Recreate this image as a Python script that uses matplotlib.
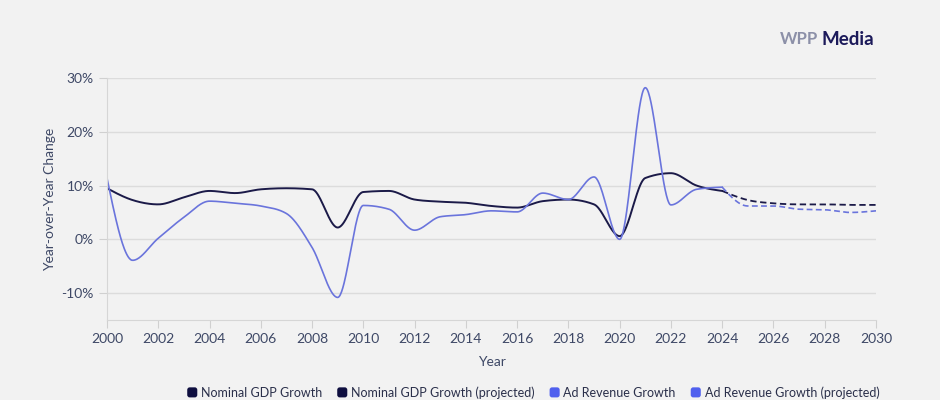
import numpy as np
import matplotlib.pyplot as plt
from matplotlib.patches import FancyBboxPatch
from matplotlib.legend_handler import HandlerPatch
from matplotlib.lines import Line2D

plt.rcParams['font.family'] = ['Lato', 'DejaVu Sans']

# ---- data ----
years = list(range(2000, 2025))
gdp = [9.5, 7.3, 6.5, 7.8, 9.0, 8.6, 9.3, 9.5, 9.3, 2.2, 8.8, 9.0, 7.4, 7.0,
       6.8, 6.2, 5.9, 7.1, 7.4, 6.5, 0.6, 11.4, 12.3, 10.0, 9.0]
ad = [11.4, -3.9, 0.2, 4.1, 7.1, 6.7, 6.2, 4.8, -1.5, -10.8, 6.3, 5.6, 1.7, 4.2,
      4.6, 5.3, 5.1, 8.6, 7.4, 11.6, 0.0, 28.2, 6.4, 9.3, 9.7]

proj_years = list(range(2024, 2031))
gdp_proj = [9.0, 7.3, 6.7, 6.5, 6.5, 6.4, 6.4]
ad_proj = [9.7, 6.2, 6.2, 5.6, 5.5, 5.0, 5.3]

series_labels = ["Nominal GDP Growth", "Nominal GDP Growth (projected)",
                 "Ad Revenue Growth", "Ad Revenue Growth (projected)"]

NAVY = "#1b1a48"
BLUE = "#6a74dc"
BG = "#f2f2f2"


def monotone(x, y, per=40):
    # monotone cubic (like d3 curveMonotoneX), only used to draw the line smooth
    x = np.asarray(x, float)
    y = np.asarray(y, float)
    h = np.diff(x)
    d = np.diff(y) / h
    m = np.zeros_like(y)
    for i in range(1, len(y) - 1):
        if d[i - 1] * d[i] > 0:
            m[i] = (np.sign(d[i - 1]) + np.sign(d[i])) * min(
                abs(d[i - 1]), abs(d[i]),
                0.5 * abs((h[i - 1] * d[i] + h[i] * d[i - 1]) / (h[i - 1] + h[i])))
    m[0] = (3 * d[0] - m[1]) / 2
    m[-1] = (3 * d[-1] - m[-2]) / 2
    xs, ys = [], []
    t = np.linspace(0, 1, per, endpoint=False)
    h00 = 2 * t**3 - 3 * t**2 + 1
    h10 = t**3 - 2 * t**2 + t
    h01 = -2 * t**3 + 3 * t**2
    h11 = t**3 - t**2
    for i in range(len(h)):
        xs.append(x[i] + t * h[i])
        ys.append(h00 * y[i] + h10 * h[i] * m[i] + h01 * y[i + 1] + h11 * h[i] * m[i + 1])
    xs.append([x[-1]])
    ys.append([y[-1]])
    return np.concatenate(xs), np.concatenate(ys)


fig = plt.figure(figsize=(9.4, 4), dpi=100, facecolor=BG)
ax = fig.add_axes([0.1138, 0.2, 0.8181, 0.605], facecolor=BG)

ax.plot(*monotone(years, gdp), color=NAVY, lw=1.4)
ax.plot(*monotone(proj_years, gdp_proj), color=NAVY, lw=1.3, ls=(0, (3.5, 2)))
ax.plot(*monotone(years, ad), color=BLUE, lw=1.2)
ax.plot(*monotone(proj_years, ad_proj), color=BLUE, lw=1.2, ls=(0, (3.5, 2)))

ax.set_xlim(2000, 2030)
ax.set_ylim(-15, 30)
ax.set_xticks(range(2000, 2031, 2))
ax.set_yticks([-10, 0, 10, 20, 30])
ax.set_yticklabels([f"{v}%" for v in [-10, 0, 10, 20, 30]])
ax.grid(axis="y", color="#dcdcdc", lw=1)
ax.set_axisbelow(True)
for s in ["top", "right"]:
    ax.spines[s].set_visible(False)
for s in ["left", "bottom"]:
    ax.spines[s].set_color("#d6d6d6")
ax.tick_params(colors="#d0d0d0", labelcolor="#3e4866", labelsize=10, length=6)
ax.set_xlabel("Year", color="#3e4866", fontsize=10, labelpad=8)
ax.set_ylabel("Year-over-Year Change", color="#3e4866", fontsize=10, labelpad=4)

# logo
fig.text(0.8705, 0.902, "WPP", color="#8c90a8", fontsize=12, fontweight="bold",
         ha="right", va="center")
fig.text(0.8735, 0.902, "Media", color="#1c1a5a", fontsize=13.5, fontweight="bold",
         ha="left", va="center")


class RoundSquare(HandlerPatch):
    def create_artists(self, legend, orig, xd, yd, w, h, fs, trans):
        s = h * 1.15
        p = FancyBboxPatch((xd + w - s, yd + (h - s) / 2), s, s,
                           boxstyle="round,pad=0,rounding_size=%f" % (s * 0.25),
                           fc=orig.get_color(), ec="none", transform=trans)
        return [p]


leg_colors = ["#0f0f40", "#0f0f40", "#5060ee", "#5060ee"]
proxies = [Line2D([], [], color=c) for c in leg_colors]
fig.legend(proxies, series_labels, loc="lower center",
           bbox_to_anchor=(0.566, -0.025), ncol=4, frameon=False, fontsize=9,
           handler_map={Line2D: RoundSquare()}, handlelength=1.0, handletextpad=0.3,
           columnspacing=1.0, labelcolor="#2a2f4a")

fig.savefig("out.png", dpi=100, facecolor=BG)
